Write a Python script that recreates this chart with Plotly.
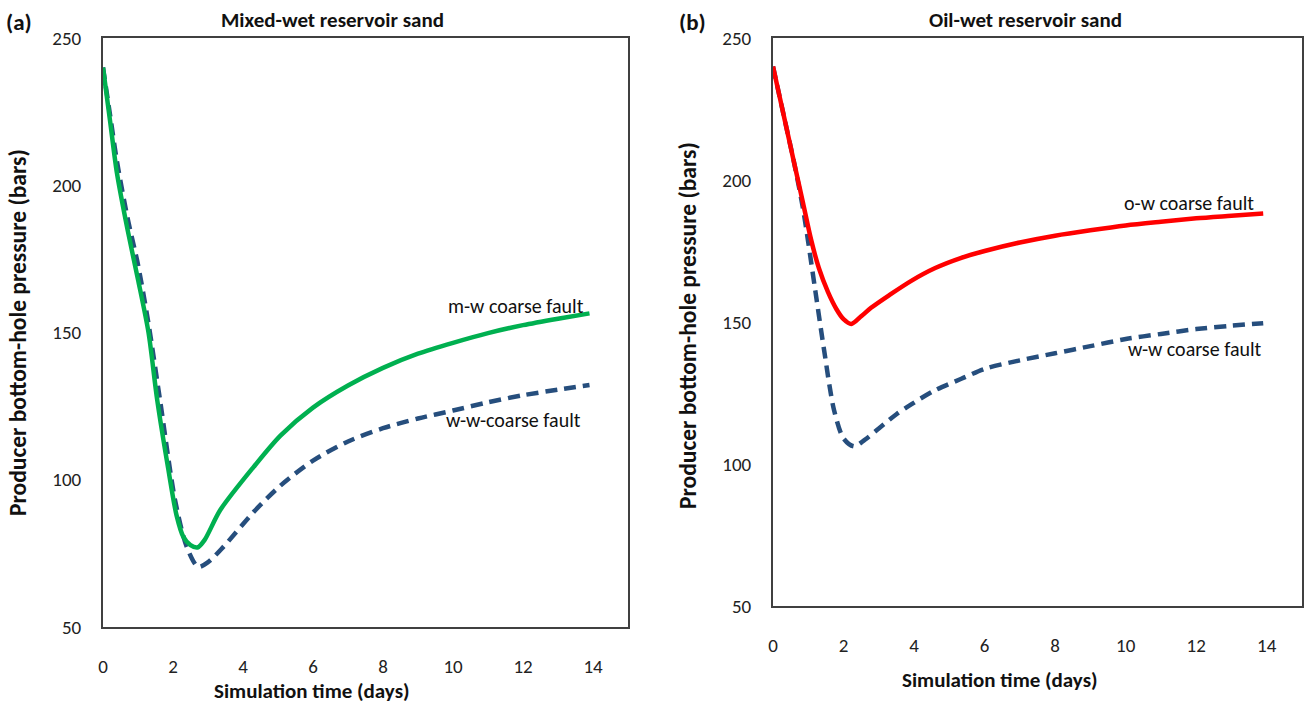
import plotly.graph_objects as go

# ---- data: producer bottom-hole pressure (bars) vs simulation time (days) ----
# (a) mixed-wet reservoir sand
t_mw = [0, 0.2, 0.4, 0.7, 1.0, 1.3, 1.55, 1.86, 2.1, 2.3, 2.5, 2.7, 2.9, 3.35, 4.3, 5.07,
        6, 7, 8, 9, 10, 11, 12, 13, 13.9]
p_mw = [240, 222, 204, 185, 168, 150, 127, 104, 88, 80.5, 77.8, 77, 79.5, 89.7, 104.3, 115,
        124.5, 132, 138, 142.8, 146.5, 149.8, 152.5, 154.7, 156.5]

t_ww_a = [0, 0.2, 0.4, 0.7, 1.0, 1.3, 1.63, 2.06, 2.4, 2.72, 3.0, 3.44, 4.3, 5.07,
          6, 7, 8, 9, 10, 11, 12, 13, 13.9]
p_ww_a = [240, 224, 208, 189, 173, 153, 127, 93, 77, 70.4, 72, 77.2, 89, 98,
          106.5, 113, 117.5, 120.8, 123.5, 126.3, 128.7, 130.6, 132.2]

# (b) oil-wet reservoir sand
t_ow = [0, 0.3, 0.6, 0.85, 1.08, 1.3, 1.56, 1.8, 2.0, 2.22, 2.5, 2.78, 3.3, 3.92, 4.6, 5.34,
        6, 7, 8, 9, 10, 11, 12, 13, 13.9]
p_ow = [240, 223, 206, 192, 179, 169, 160.5, 154.5, 151, 149.3, 152, 155, 159.5, 164.5, 169, 172.6,
        175, 178, 180.4, 182.3, 184, 185.3, 186.5, 187.4, 188.2]

t_ww_b = [0, 0.3, 0.6, 0.85, 1.0, 1.2, 1.45, 1.73, 2.0, 2.3, 2.6, 3.0, 3.5, 3.92, 4.6, 5.34,
          6, 7, 8, 9, 10, 11, 12, 13, 13.9]
p_ww_b = [240, 223, 206, 190, 178, 161, 140, 119, 109, 106.2, 108.5, 112.5, 117.5, 121, 126, 130,
          133.5, 136.5, 139, 141.5, 144, 145.8, 147.5, 148.7, 149.6]

x_ticks = [0, 2, 4, 6, 8, 10, 12, 14]
y_ticks = [50, 100, 150, 200, 250]

W, H = 1308, 708
FONT = "Carlito, Lato, Open Sans, sans-serif"
GREEN = "#00B050"
RED = "#FF0000"
NAVY = "#264E7D"
FRAME = "#404040"


def px(x):
    return x / W


def py(y):
    return 1 - y / H


fig = go.Figure()

line_kw = dict(mode="lines", line_shape="spline", showlegend=False, hoverinfo="skip")
fig.add_trace(go.Scatter(x=t_ww_a, y=p_ww_a, xaxis="x", yaxis="y",
                         line=dict(color=NAVY, width=4.5, dash="12px,7px", smoothing=0.8), **line_kw))
fig.add_trace(go.Scatter(x=t_mw, y=p_mw, xaxis="x", yaxis="y",
                         line=dict(color=GREEN, width=4.5, smoothing=0.8), **line_kw))
fig.add_trace(go.Scatter(x=t_ww_b, y=p_ww_b, xaxis="x2", yaxis="y2",
                         line=dict(color=NAVY, width=4.5, dash="12px,7px", smoothing=0.8), **line_kw))
fig.add_trace(go.Scatter(x=t_ow, y=p_ow, xaxis="x2", yaxis="y2",
                         line=dict(color=RED, width=4.5, smoothing=0.8), **line_kw))

tickfont = dict(family=FONT, size=19, color="#222222")
xcommon = dict(range=[0, 15], tickvals=x_ticks, showgrid=False, zeroline=False,
               showline=True, mirror=True, linecolor=FRAME, linewidth=2, automargin=False,
               ticks="", tickfont=tickfont, ticklabelstandoff=21)
ycommon = dict(range=[50, 250], tickvals=y_ticks, showgrid=False, zeroline=False,
               showline=True, mirror=True, linecolor=FRAME, linewidth=2, automargin=False,
               ticks="", tickfont=tickfont, ticklabelstandoff=16)

fig.update_layout(
    width=W, height=H,
    margin=dict(l=0, r=0, t=0, b=0, autoexpand=False),
    paper_bgcolor="white", plot_bgcolor="white",
    xaxis=dict(domain=[px(103), px(628)], anchor="y", **xcommon),
    yaxis=dict(domain=[py(627), py(38)], anchor="x", **ycommon),
    xaxis2=dict(domain=[px(773), px(1302)], anchor="y2", **xcommon),
    yaxis2=dict(domain=[py(606), py(38)], anchor="x2", **ycommon),
)

title_font = dict(family=FONT, size=21, color="#111111")
ytitle_font = dict(family=FONT, size=23.5, color="#111111")
label = dict(family=FONT, size=20, color="#111111")


def note(text, x, y, font, **kw):
    fig.add_annotation(text=text, x=x, y=y, xref="paper", yref="paper",
                       showarrow=False, font=font, xanchor="center", yanchor="middle", **kw)


# panel letters and titles
note("<b>(a)</b>", px(19), py(22), dict(family=FONT, size=23, color="#111111"))
note("<b>(b)</b>", px(692), py(22), dict(family=FONT, size=23, color="#111111"))
note("<b>Mixed-wet reservoir sand</b>", px(333), py(20), title_font)
note("<b>Oil-wet reservoir sand</b>", px(1025), py(20), title_font)

# axis titles
note("<b>Simulation time (days)</b>", px(312), py(691), title_font)
note("<b>Simulation time (days)</b>", px(1000), py(680), title_font)
note("<b>Producer bottom-hole pressure (bars)</b>", px(18), py(333), ytitle_font, textangle=-90)
note("<b>Producer bottom-hole pressure (bars)</b>", px(688), py(326), ytitle_font, textangle=-90)

# curve labels in data coordinates
for text, x, y, xr, yr in [
    ("m-w coarse fault", 11.8, 159, "x", "y"),
    ("w-w-coarse fault", 11.73, 120.3, "x", "y"),
    ("o-w coarse fault", 11.8, 192, "x2", "y2"),
    ("w-w coarse fault", 11.97, 140.5, "x2", "y2"),
]:
    fig.add_annotation(text=text, x=x, y=y, xref=xr, yref=yr, showarrow=False,
                       font=label, xanchor="center", yanchor="middle")

fig.write_html("out.html")
